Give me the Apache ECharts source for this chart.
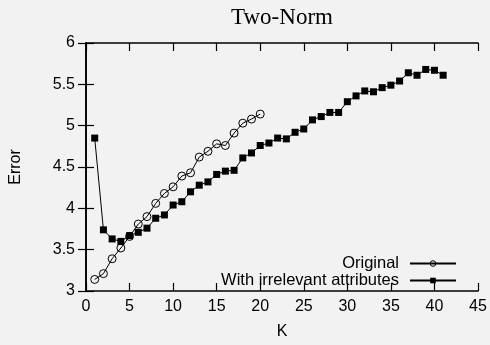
<!DOCTYPE html>
<html>
<head>
<meta charset="utf-8">
<script src="https://cdn.jsdelivr.net/npm/echarts@6/dist/echarts.min.js"></script>
<style>
  html, body { margin: 0; padding: 0; background: #f2f2f2; }
  #chart { width: 490px; height: 345px; }
</style>
</head>
<body>
<div id="chart"></div>
<script>
// Error versus number of neighbours K
const kOriginal = [1,2,3,4,5,6,7,8,9,10,11,12,13,14,15,16,17,18,19,20];
const errOriginal = [3.14,3.21,3.39,3.52,3.66,3.81,3.90,4.06,4.18,4.26,4.39,4.43,4.62,4.69,4.78,4.76,4.91,5.03,5.08,5.14];

const kIrrelevant = [1,2,3,4,5,6,7,8,9,10,11,12,13,14,15,16,17,18,19,20,21,22,23,24,25,26,27,28,29,30,31,32,33,34,35,36,37,38,39,40,41];
const errIrrelevant = [4.85,3.74,3.63,3.60,3.67,3.71,3.76,3.88,3.92,4.04,4.08,4.20,4.28,4.32,4.41,4.45,4.46,4.61,4.67,4.76,4.79,4.85,4.84,4.92,4.96,5.07,5.11,5.16,5.16,5.29,5.36,5.42,5.41,5.46,5.49,5.54,5.64,5.61,5.68,5.67,5.61];

const xTicks = [0,5,10,15,20,25,30,35,40,45];
const yTicks = [3,3.5,4,4.5,5,5.5,6];

const seriesNames = ['Original', 'With irrelevant attributes'];

const pair = (xs, ys) => xs.map((x, i) => [x, ys[i]]);

const sans = 'Liberation Sans, Arial, sans-serif';
const ink = '#000';
const fs = 16;

const frameAxis = {
  axisLine: { show: true, lineStyle: { color: ink, width: 1.6 } },
  axisTick: { show: true, inside: true, length: 8, lineStyle: { color: ink, width: 1.2 } },
  splitLine: { show: false }
};

const chart = echarts.init(document.getElementById('chart'), null, { renderer: 'canvas' });

chart.setOption({
  backgroundColor: '#f2f2f2',
  animation: false,
  title: {
    text: 'Two-Norm',
    left: 282, top: 6, textAlign: 'center', padding: 0,
    textStyle: { fontFamily: 'Liberation Serif, Times New Roman, serif', fontWeight: 'normal', fontSize: 23, color: ink }
  },
  grid: { left: 86, right: 12, top: 43, bottom: 48, containLabel: false },
  legend: {
    data: seriesNames,
    orient: 'vertical',
    right: 33, top: 255, padding: 0,
    align: 'right',
    itemWidth: 46, itemHeight: 7, itemGap: 0,
    itemStyle: { borderWidth: 1 },
    textStyle: { fontFamily: sans, fontSize: 16.5, lineHeight: 17, color: ink, padding: [0, 6, 0, 0] },
    selectedMode: false
  },
  xAxis: [
    Object.assign({
      type: 'value', min: xTicks[0], max: xTicks[xTicks.length - 1], interval: 5,
      position: 'bottom',
      name: 'K', nameLocation: 'middle', nameGap: 33,
      nameTextStyle: { fontFamily: sans, fontSize: fs, color: ink },
      axisLabel: { fontFamily: sans, fontSize: fs, color: ink, margin: 8 }
    }, frameAxis),
    Object.assign({
      type: 'value', min: xTicks[0], max: xTicks[xTicks.length - 1], interval: 5,
      position: 'top', axisLabel: { show: false }
    }, frameAxis)
  ],
  yAxis: [
    Object.assign({
      type: 'value', min: yTicks[0], max: yTicks[yTicks.length - 1], interval: 0.5,
      position: 'left',
      name: 'Error', nameLocation: 'middle', nameGap: 62, nameRotate: 90,
      nameTextStyle: { fontFamily: sans, fontSize: fs, color: ink },
      axisLabel: { fontFamily: sans, fontSize: fs, color: ink, margin: 11 }
    }, frameAxis),
    Object.assign({
      type: 'value', min: yTicks[0], max: yTicks[yTicks.length - 1], interval: 0.5,
      position: 'right', axisLabel: { show: false }
    }, frameAxis)
  ],
  series: [
    {
      name: seriesNames[0],
      type: 'line',
      data: pair(kOriginal, errOriginal),
      symbol: 'circle', symbolSize: 8,
      showAllSymbol: true,
      itemStyle: { color: 'rgba(0,0,0,0)', borderColor: ink, borderWidth: 1 },
      lineStyle: { color: ink, width: 1 },
      emphasis: { disabled: true }
    },
    {
      name: seriesNames[1],
      type: 'line',
      data: pair(kIrrelevant, errIrrelevant),
      symbol: 'rect', symbolSize: 7,
      showAllSymbol: true,
      itemStyle: { color: ink },
      lineStyle: { color: ink, width: 1 },
      emphasis: { disabled: true }
    }
  ]
});
</script>
</body>
</html>
